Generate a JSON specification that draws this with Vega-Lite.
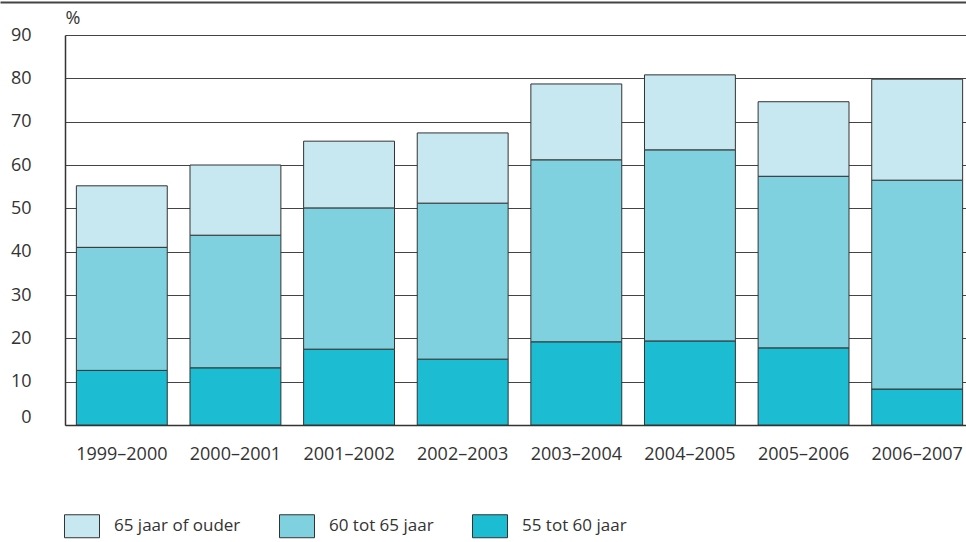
{
  "$schema": "https://vega.github.io/schema/vega-lite/v6.json",
  "width": 901,
  "height": 390,
  "autosize": {"type": "none"},
  "padding": {"left": 65, "top": 35, "right": 0, "bottom": 117},
  "background": "white",
  "config": {
    "view": {"stroke": null},
    "font": "Open Sans",
    "axis": {"labelFont": "Open Sans", "labelFontSize": 18, "labelColor": "#333", "titleFont": "Open Sans"},
    "legend": {"labelFont": "Open Sans"}
  },
  "data": {
    "values": [
      {"period": "1999–2000", "age": "55 tot 60 jaar", "value": 12.6},
      {"period": "1999–2000", "age": "60 tot 65 jaar", "value": 28.4},
      {"period": "1999–2000", "age": "65 jaar of ouder", "value": 14.2},
      {"period": "2000–2001", "age": "55 tot 60 jaar", "value": 13.2},
      {"period": "2000–2001", "age": "60 tot 65 jaar", "value": 30.6},
      {"period": "2000–2001", "age": "65 jaar of ouder", "value": 16.2},
      {"period": "2001–2002", "age": "55 tot 60 jaar", "value": 17.5},
      {"period": "2001–2002", "age": "60 tot 65 jaar", "value": 32.6},
      {"period": "2001–2002", "age": "65 jaar of ouder", "value": 15.4},
      {"period": "2002–2003", "age": "55 tot 60 jaar", "value": 15.2},
      {"period": "2002–2003", "age": "60 tot 65 jaar", "value": 36.0},
      {"period": "2002–2003", "age": "65 jaar of ouder", "value": 16.2},
      {"period": "2003–2004", "age": "55 tot 60 jaar", "value": 19.2},
      {"period": "2003–2004", "age": "60 tot 65 jaar", "value": 42.0},
      {"period": "2003–2004", "age": "65 jaar of ouder", "value": 17.5},
      {"period": "2004–2005", "age": "55 tot 60 jaar", "value": 19.4},
      {"period": "2004–2005", "age": "60 tot 65 jaar", "value": 44.1},
      {"period": "2004–2005", "age": "65 jaar of ouder", "value": 17.3},
      {"period": "2005–2006", "age": "55 tot 60 jaar", "value": 17.8},
      {"period": "2005–2006", "age": "60 tot 65 jaar", "value": 39.6},
      {"period": "2005–2006", "age": "65 jaar of ouder", "value": 17.2},
      {"period": "2006–2007", "age": "55 tot 60 jaar", "value": 8.3},
      {"period": "2006–2007", "age": "60 tot 65 jaar", "value": 48.2},
      {"period": "2006–2007", "age": "65 jaar of ouder", "value": 23.3}
    ]
  },
  "layer": [
    {
      "mark": {"type": "bar", "stroke": "#333", "strokeWidth": 1},
      "encoding": {
        "x": {
          "field": "period",
          "type": "nominal",
          "sort": null,
          "scale": {"range": [0, 909], "paddingInner": 0.2, "paddingOuter": 0.1},
          "axis": {
            "title": null,
            "labelAngle": 0,
            "ticks": false,
            "labelPadding": 20,
            "domainColor": "#333",
            "domainWidth": 1.5,
            "grid": false
          }
        },
        "y": {
          "field": "value",
          "type": "quantitative",
          "aggregate": "sum",
          "stack": "zero",
          "scale": {"domain": [0, 90], "nice": false},
          "axis": {
            "title": "%",
            "titleAngle": 0,
            "titleAlign": "left",
            "titleBaseline": "middle",
            "titleX": 0,
            "titleY": -17,
            "titleFontSize": 18,
            "titleFontWeight": "normal",
            "titleColor": "#333",
            "values": [0, 10, 20, 30, 40, 50, 60, 70, 80, 90],
            "ticks": false,
            "labelPadding": 34,
            "labelOffset": {"condition": {"test": "datum.value === 0", "value": -8}, "value": 0},
            "grid": true,
            "gridColor": "#444",
            "gridWidth": 1,
            "domainColor": "#333",
            "domainWidth": 1.5
          }
        },
        "color": {
          "field": "age",
          "type": "nominal",
          "scale": {
            "domain": ["65 jaar of ouder", "60 tot 65 jaar", "55 tot 60 jaar"],
            "range": ["#c7e8f0", "#80d1df", "#1cbcd2"]
          },
          "legend": {
            "title": null,
            "orient": "none",
            "direction": "horizontal",
            "legendX": -1,
            "legendY": 473,
            "symbolType": "M-1,-0.657H1V0.657H-1Z",
            "symbolSize": 1225,
            "symbolStrokeColor": "#333",
            "symbolStrokeWidth": 1,
            "symbolOpacity": 1,
            "labelFontSize": 17,
            "labelColor": "#333",
            "labelOffset": 14,
            "columnPadding": 36,
            "labelBaseline": "middle"
          }
        },
        "order": {"field": "age", "sort": "ascending"}
      }
    },
    {
      "mark": {"type": "bar", "opacity": 0},
      "encoding": {
        "x": {
          "field": "period",
          "type": "nominal",
          "sort": null,
          "scale": {"range": [-65, 901]},
          "axis": {
            "orient": "top",
            "title": null,
            "labels": false,
            "ticks": false,
            "grid": false,
            "offset": 33,
            "domainColor": "#444",
            "domainWidth": 2
          }
        },
        "y": {"field": "value", "type": "quantitative", "aggregate": "sum"}
      }
    }
  ],
  "resolve": {"scale": {"x": "independent"}, "axis": {"x": "independent"}}
}
